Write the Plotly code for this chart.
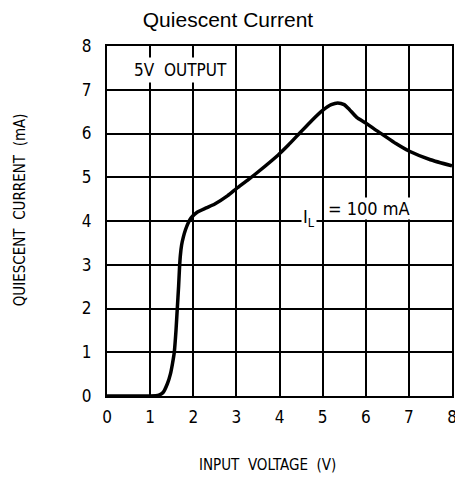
import plotly.graph_objects as go

# Data
input_voltage = [0, 1.0, 1.2, 1.3, 1.4, 1.47, 1.52, 1.56, 1.6, 1.63, 1.66, 1.68, 1.70, 1.73, 1.77,
                 1.82, 1.88, 1.95, 2.09, 2.3, 2.5, 2.8, 3.0, 3.27, 3.5, 3.97, 4.2, 4.46, 4.75, 5.0,
                 5.2, 5.35, 5.5, 5.62, 5.79, 6.0, 6.2, 6.4, 6.7, 7.0, 7.5, 8.0]
quiescent_ma = [0, 0, 0.02, 0.08, 0.28, 0.5, 0.75, 1.0, 1.5, 2.0, 2.5, 2.9, 3.2, 3.45, 3.63,
                3.8, 3.95, 4.07, 4.2, 4.3, 4.39, 4.58, 4.74, 4.94, 5.12, 5.51, 5.73, 6.0, 6.3, 6.53,
                6.66, 6.7, 6.66, 6.55, 6.37, 6.24, 6.1, 5.97, 5.77, 5.6, 5.4, 5.26]
x_ticks = [0, 1, 2, 3, 4, 5, 6, 7, 8]
y_ticks = [0, 1, 2, 3, 4, 5, 6, 7, 8]

narrow = "Liberation Sans Narrow, DejaVu Sans Condensed, Arial Narrow, Liberation Sans, sans-serif"

# The page body has an 8px margin, so the figure is drawn 8px in from the window corner.
OFF = 8
W, H = 463 - OFF, 483 - OFF
L, R, T, B = 107 - OFF, 6, 46 - OFF, 87
pw, ph = W - L - R, H - T - B


def px_to_paper_x(px):
    return (px - OFF - L) / pw


def px_to_paper_y(py):
    return (H - B - (py - OFF)) / ph


fig = go.Figure()
fig.add_trace(go.Scatter(
    x=input_voltage, y=quiescent_ma, mode="lines",
    line=dict(color="black", width=3.5, shape="spline", smoothing=0.5),
    hoverinfo="skip", showlegend=False,
))

fig.update_layout(
    width=W, height=H,
    margin=dict(l=L, r=R, t=T, b=B),
    paper_bgcolor="white", plot_bgcolor="white",
    title=dict(text="Quiescent Current", x=(228 - OFF) / W, xanchor="center",
               y=1 - (20 - OFF) / H, yanchor="middle",
               font=dict(family="Liberation Sans, Arial, sans-serif", size=21, color="black")),
    xaxis=dict(range=[0, 8], tickvals=x_ticks, showgrid=True, gridcolor="black", gridwidth=1.5,
               showline=True, linecolor="black", linewidth=2, mirror=True, zeroline=False,
               ticks="", ticklabelstandoff=5, ticklabeloverflow="allow",
               tickfont=dict(family=narrow, size=17, color="black")),
    yaxis=dict(range=[0, 8], tickvals=y_ticks, showgrid=True, gridcolor="black", gridwidth=1.5,
               showline=True, linecolor="black", linewidth=2, mirror=True, zeroline=False,
               ticks="", ticklabelstandoff=10, ticklabeloverflow="allow",
               tickfont=dict(family=narrow, size=17, color="black")),
    annotations=[
        dict(text="5V  OUTPUT", x=0.55, y=7.46, xref="x", yref="y", xanchor="left", yanchor="middle",
             showarrow=False, bgcolor="white", borderpad=2,
             font=dict(family=narrow, size=17, color="black")),
        dict(text="I<sub>L</sub>", x=4.5, y=4.08, xref="x", yref="y", xanchor="left", yanchor="middle",
             showarrow=False, bgcolor="white", borderpad=1,
             font=dict(family=narrow, size=18, color="black")),
        dict(text="= 100 mA", x=5.1, y=4.03, xref="x", yref="y", xanchor="left", yanchor="bottom",
             showarrow=False, bgcolor="white", borderpad=0,
             font=dict(family=narrow, size=18, color="black")),
        dict(text="INPUT  VOLTAGE  (V)", x=px_to_paper_x(270), y=px_to_paper_y(465),
             xref="paper", yref="paper", xanchor="center", yanchor="middle",
             showarrow=False, font=dict(family=narrow, size=15, color="black")),
        dict(text="QUIESCENT  CURRENT  (mA)", x=px_to_paper_x(19), y=px_to_paper_y(210),
             xref="paper", yref="paper", xanchor="center", yanchor="middle",
             showarrow=False, textangle=-90, font=dict(family=narrow, size=15, color="black")),
    ],
)

fig.write_html("out.html")
